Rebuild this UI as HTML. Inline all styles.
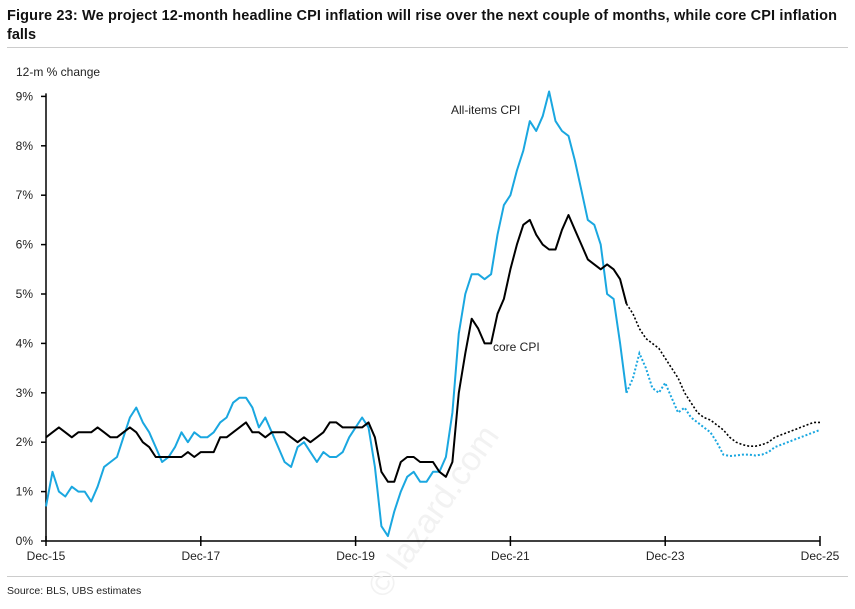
<!DOCTYPE html>
<html><head><meta charset="utf-8"><style>
body{margin:0;background:#fff;width:855px;height:604px;overflow:hidden;font-family:"Liberation Sans",sans-serif}
</style></head><body>
<svg id="s" width="855" height="604" xmlns="http://www.w3.org/2000/svg" font-family="Liberation Sans, sans-serif">
<text x="7" y="20" font-size="14.5" font-weight="bold" fill="#111" textLength="830">Figure 23: We project 12-month headline CPI inflation will rise over the next couple of months, while core CPI inflation</text>
<text x="7" y="39" font-size="14.5" font-weight="bold" fill="#111">falls</text>
<line x1="7" y1="47.5" x2="848" y2="47.5" stroke="#ccc"/>
<line x1="7" y1="576.5" x2="848" y2="576.5" stroke="#ccc"/>
<text x="16" y="76" font-size="12" fill="#222">12-m % change</text>
<text x="7" y="594" font-size="10.5" fill="#222">Source: BLS, UBS estimates</text>
<text x="385" y="600" font-size="34" fill="#f2f2f2" transform="rotate(-55 385 600)">© lazard.com</text>
<g id="ax" stroke="#000" stroke-width="1.5"></g>
<g id="lab" font-size="12" fill="#222"></g>
<g id="ser"></g>
<text x="451" y="114" font-size="12" fill="#222">All-items CPI</text>
<text x="493" y="351" font-size="12" fill="#222">core CPI</text>
</svg>
<script>
var X=function(m){return 46+6.45*m},Y=function(v){return 541-49.4*v};
var ns="http://www.w3.org/2000/svg";
function el(p,t,a,txt){var e=document.createElementNS(ns,t);for(var k in a)e.setAttribute(k,a[k]);if(txt)e.textContent=txt;document.getElementById(p).appendChild(e);return e;}
el("ax","line",{x1:46,y1:Y(9)-3,x2:46,y2:541});
el("ax","line",{x1:46,y1:541,x2:820,y2:541});
for(var i=0;i<=9;i++){el("ax","line",{x1:41,y1:Y(i),x2:46,y2:Y(i)});el("lab","text",{x:33,y:Y(i)+4,"text-anchor":"end"},i+"%");}
var yrs=["Dec-15","Dec-17","Dec-19","Dec-21","Dec-23","Dec-25"];
for(var j=0;j<6;j++){var x=X(j*24);el("ax","line",{x1:x,y1:536,x2:x,y2:546});el("lab","text",{x:x,y:560,"text-anchor":"middle"},yrs[j]);}
var h=[0.7,1.4,1.0,0.9,1.1,1.0,1.0,0.8,1.1,1.5,1.6,1.7,2.1,2.5,2.7,2.4,2.2,1.9,1.6,1.7,1.9,2.2,2.0,2.2,2.1,2.1,2.2,2.4,2.5,2.8,2.9,2.9,2.7,2.3,2.5,2.2,1.9,1.6,1.5,1.9,2.0,1.8,1.6,1.8,1.7,1.7,1.8,2.1,2.3,2.5,2.3,1.5,0.3,0.1,0.6,1.0,1.3,1.4,1.2,1.2,1.4,1.4,1.7,2.6,4.2,5.0,5.4,5.4,5.3,5.4,6.2,6.8,7.0,7.5,7.9,8.5,8.3,8.6,9.1,8.5,8.3,8.2,7.7,7.1,6.5,6.4,6.0,5.0,4.9,4.0,3.0];
var hf=[3.0,3.3,3.8,3.5,3.1,3.0,3.2,2.9,2.6,2.7,2.5,2.4,2.3,2.2,2.0,1.75,1.72,1.73,1.75,1.75,1.73,1.75,1.8,1.9,1.95,2.0,2.05,2.1,2.15,2.2,2.25];
var c=[2.1,2.2,2.3,2.2,2.1,2.2,2.2,2.2,2.3,2.2,2.1,2.1,2.2,2.3,2.2,2.0,1.9,1.7,1.7,1.7,1.7,1.7,1.8,1.7,1.8,1.8,1.8,2.1,2.1,2.2,2.3,2.4,2.2,2.2,2.1,2.2,2.2,2.2,2.1,2.0,2.1,2.0,2.1,2.2,2.4,2.4,2.3,2.3,2.3,2.3,2.4,2.1,1.4,1.2,1.2,1.6,1.7,1.7,1.6,1.6,1.6,1.4,1.3,1.6,3.0,3.8,4.5,4.3,4.0,4.0,4.6,4.9,5.5,6.0,6.4,6.5,6.2,6.0,5.9,5.9,6.3,6.6,6.3,6.0,5.7,5.6,5.5,5.6,5.5,5.3,4.8];
var cf=[4.8,4.6,4.3,4.1,4.0,3.9,3.7,3.5,3.3,3.0,2.8,2.6,2.5,2.45,2.35,2.25,2.1,2.0,1.95,1.92,1.92,1.95,2.0,2.1,2.15,2.2,2.25,2.3,2.35,2.4,2.4];
function pts(a,o){return a.map(function(v,i){return X(i+o).toFixed(1)+","+Y(v).toFixed(1)}).join(" ");}
el("ser","polyline",{points:pts(h,0),fill:"none",stroke:"#1aa7e0","stroke-width":2,"stroke-linejoin":"round"});
el("ser","polyline",{points:pts(c,0),fill:"none",stroke:"#000","stroke-width":2,"stroke-linejoin":"round"});
el("ser","polyline",{points:pts(hf,90),fill:"none",stroke:"#1aa7e0","stroke-width":2,"stroke-dasharray":"2,2"});
el("ser","polyline",{points:pts(cf,90),fill:"none",stroke:"#000","stroke-width":1.6,"stroke-dasharray":"2,2"});
</script>
</body></html>
